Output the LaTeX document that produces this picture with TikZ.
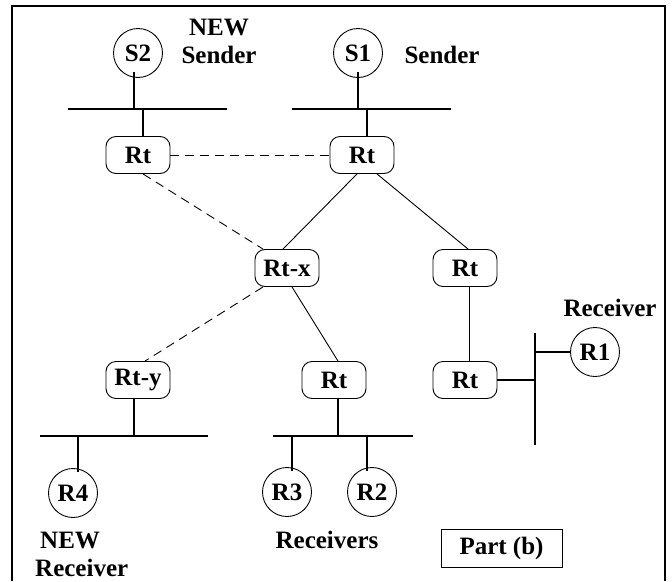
\documentclass[tikz,border=0pt]{standalone}
\usepackage{fontspec}
\setmainfont{Liberation Serif}
\usetikzlibrary{calc}
\begin{document}
\begin{tikzpicture}[x=1pt,y=-1pt,
  every node/.style={font=\fontsize{25}{28}\selectfont\bfseries},
  router/.style={draw,rounded corners=10pt,minimum width=64pt,minimum height=37pt,inner sep=1pt,line width=0.9pt},
  host/.style={draw,circle,minimum size=49pt,inner sep=0pt,line width=0.9pt},
  bus/.style={line width=2pt},
  stub/.style={line width=1.8pt},
  link/.style={line width=0.9pt},
  dlink/.style={line width=0.9pt,dash pattern=on 9pt off 6pt},
  label/.style={align=center,inner sep=0pt}]
\useasboundingbox (0,0) rectangle (672,581);
% outer frame (open at the bottom edge)
\draw[line width=1.3pt] (12,581) -- (12,6) -- (665,6) -- (665,581);

% hosts
\node[host] (S2) at (138,53) {S2};
\node[host] (S1) at (358,53) {S1};
\node[host] (R4) at (73,493) {R4};
\node[host] (R3) at (287,492) {R3};
\node[host] (R2) at (372,492) {R2};
\node[host] (R1) at (595,352) {R1};

% routers
\node[router] (RtA) at (138,155) {Rt};
\node[router] (RtB) at (362,155) {Rt};
\node[router] (RtX) at (287,268) {Rt-x};
\node[router] (RtC) at (465,268) {Rt};
\node[router] (RtY) at (138,380) {Rt-y};
\node[router] (RtD) at (334,380) {Rt};
\node[router] (RtE) at (465,380) {Rt};

% LAN segments
\coordinate (b1l) at (68,109);  \coordinate (b1r) at (227,109);
\coordinate (b2l) at (292,109); \coordinate (b2r) at (451,109);
\coordinate (b3l) at (40,436);  \coordinate (b3r) at (208,436);
\coordinate (b4l) at (273,436); \coordinate (b4r) at (413,436);
\coordinate (b5t) at (535,333); \coordinate (b5b) at (535,445);
\draw[bus] (b1l) -- (b1r);
\draw[bus] (b2l) -- (b2r);
\draw[bus] (b3l) -- (b3r);
\draw[bus] (b4l) -- (b4r);
\draw[bus] (b5t) -- (b5b);

% taps onto the segments
\coordinate (t1) at (134,109); \coordinate (t2) at (143,109);
\coordinate (t3) at (358,109); \coordinate (t4) at (367,109);
\coordinate (t5) at (134,436); \coordinate (t6) at (78,436);
\coordinate (t7) at (338,436); \coordinate (t8) at (292,436); \coordinate (t9) at (367,436);
\coordinate (t10) at (535,380); \coordinate (t11) at (535,352);
\draw[stub] ([shift={(-4,-6)}]S2.south) -- (t1);
\draw[stub] (t2) -- ([xshift=5pt]RtA.north);
\draw[stub] ([shift={(0,-6)}]S1.south) -- (t3);
\draw[stub] (t4) -- ([xshift=5pt]RtB.north);
\draw[stub] ([xshift=-4pt]RtY.south) -- (t5);
\draw[stub] (t6) -- ([shift={(5,4)}]R4.north);
\draw[stub] ([xshift=4pt]RtD.south) -- (t7);
\draw[stub] (t8) -- ([shift={(5,4)}]R3.north);
\draw[stub] (t9) -- ([shift={(-5,4)}]R2.north);
\draw[stub] (RtE.east) -- (t10);
\draw[stub] (t11) -- (R1.west);

% router links
\draw[dlink] (RtA.east) -- (RtB.west);
\draw[link] ([xshift=-5pt]RtB.south) -- ([xshift=-4pt]RtX.north);
\draw[link] ([xshift=15pt]RtB.south) -- ([xshift=3pt]RtC.north);
\draw[dlink] ([xshift=5pt]RtA.south) -- ([xshift=-24pt]RtX.north);
\draw[dlink] ([xshift=-24pt]RtX.south) -- ([xshift=7pt]RtY.north);
\draw[link] ([xshift=5pt]RtX.south) -- ([xshift=4pt]RtD.north);
\draw[link] ([xshift=4pt]RtC.south) -- ([xshift=4pt]RtE.north);

% labels
\node[label] (lS2) at (219,41) {NEW\\Sender};
\node[label] (lS1) at (442,55) {Sender};
\node[label] (lR1) at (610,308) {Receiver};
\node[label] (lR23) at (327,540) {Receivers};
\node[label,align=left,anchor=west] (lR4) at (35,554) {\hspace*{5pt}NEW\\Receiver};
\node[draw,line width=0.9pt,minimum width=121pt,minimum height=38pt,inner sep=0pt] (part) at (501.5,548) {Part (b)};
\end{tikzpicture}
\end{document}
